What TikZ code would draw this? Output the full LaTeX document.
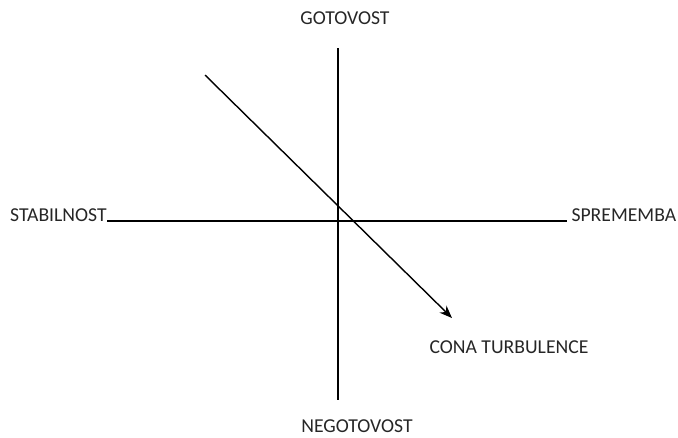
\documentclass[tikz,border=0pt]{standalone}
\usepackage{fontspec}
\setmainfont{Carlito}
\usetikzlibrary{arrows.meta,positioning}

\begin{document}
\begin{tikzpicture}[x=0.025cm, y=-0.025cm]
  \tikzset{
    oznaka/.style={inner sep=0pt, font=\fontsize{14}{17}\selectfont, text=black!85},
    os/.style={line width=0.8pt},
  }
  \useasboundingbox (0,0) rectangle (678,437);

  % Osi
  \coordinate (zg) at (338,48);
  \coordinate (sp) at (338,400);
  \coordinate (le) at (107,221);
  \coordinate (de) at (567,221);
  \draw[os] (zg) -- (sp);
  \draw[os] (le) -- (de);

  % Napisi
  \node[oznaka, anchor=base east] (stab) at (le) {STABILNOST};
  \node[oznaka, anchor=base west] (sprem) at ([xshift=3]de) {SPREMEMBA};
  \node[oznaka] (got) at (345,18) {GOTOVOST};
  \node[oznaka] (negot) at (357,426) {NEGOTOVOST};
  \node[oznaka] (cona) at (509,347) {CONA TURBULENCE};

  % Puscica
  \coordinate (zac) at (205,75);
  \coordinate (kon) at (452,318);
  \draw[os, line width=1pt, -{Stealth[length=9pt, width=7pt]}] (zac) -- (kon);
\end{tikzpicture}
\end{document}
